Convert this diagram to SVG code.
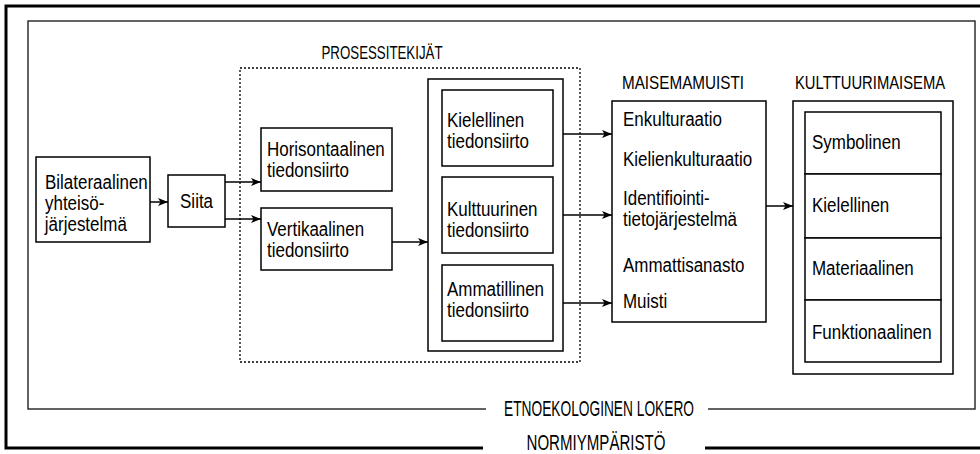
<svg xmlns="http://www.w3.org/2000/svg" width="980" height="454" viewBox="0 0 980 454">
  <style>
    text { font-family: "Liberation Sans", Arial, sans-serif; font-size: 19.5px; fill: #000;
           transform-box: fill-box; transform-origin: 0 50%; transform: scaleX(0.87); }
    text.mid { transform-origin: 50% 50%; }
    .cap { font-size: 19px; transform: none; }
    .cap.narrow { transform-origin: 50% 50%; transform: scaleX(0.78); }
    .big { font-size: 22px; transform: none; }
    .box { fill: #fff; stroke: #000; stroke-width: 1.5; }
    .frame { fill: none; stroke: #000; stroke-width: 3; }
    .inner { fill: none; stroke: #222; stroke-width: 1.4; }
    .dotted { fill: none; stroke: #000; stroke-width: 1.3; stroke-dasharray: 2 2; }
    .conn { fill: none; stroke: #000; stroke-width: 1.5; }
    .mask { fill: #fff; stroke: none; }
  </style>
  <defs>
    <marker id="arrow" viewBox="0 0 10 8" refX="10" refY="4" markerWidth="10" markerHeight="8" markerUnits="userSpaceOnUse" orient="auto">
      <path d="M0,0 L10,4 L0,8 L2.5,4 Z" fill="#000"/>
    </marker>
  </defs>

  <rect width="980" height="454" fill="#fff"/>

  <!-- outer environment frame, open at the bottom for its label -->
  <g id="normiymparisto">
    <rect class="frame" x="6" y="6" width="980" height="442"/>
    <rect class="mask" x="483" y="440" width="222" height="14"/>
    <text class="big" x="596" y="450" text-anchor="middle" textLength="139" lengthAdjust="spacingAndGlyphs">NORMIYMPÄRISTÖ</text>
  </g>

  <!-- ethno-ecological niche frame -->
  <g id="etnoekologinen-lokero">
    <rect class="inner" x="28" y="21" width="947" height="388"/>
    <rect class="mask" x="486" y="402" width="222" height="14"/>
    <text class="big" x="599" y="416" text-anchor="middle" textLength="190" lengthAdjust="spacingAndGlyphs">ETNOEKOLOGINEN LOKERO</text>
  </g>

  <!-- process factors -->
  <g id="prosessitekijat">
    <rect class="dotted" x="240" y="68" width="340" height="294"/>
    <text class="cap" x="382" y="59" text-anchor="middle" textLength="121" lengthAdjust="spacingAndGlyphs">PROSESSITEKIJÄT</text>
  </g>

  <g id="bilateraalinen">
    <rect class="box" x="36" y="157" width="114" height="85"/>
    <text x="45" y="189">Bilateraalinen</text>
    <text x="45" y="210">yhteisö-</text>
    <text x="45" y="231">järjestelmä</text>
  </g>

  <g id="siita">
    <rect class="box" x="168" y="175" width="57" height="52"/>
    <text class="mid" x="196.5" y="208" text-anchor="middle">Siita</text>
  </g>

  <g id="horisontaalinen">
    <rect class="box" x="261" y="128" width="131" height="63"/>
    <text x="267" y="156">Horisontaalinen</text>
    <text x="267" y="177">tiedonsiirto</text>
  </g>

  <g id="vertikaalinen">
    <rect class="box" x="261" y="208" width="131" height="62"/>
    <text x="267" y="236">Vertikaalinen</text>
    <text x="267" y="257">tiedonsiirto</text>
  </g>

  <g id="tiedonsiirto">
    <rect class="box" x="428" y="79" width="135" height="272"/>
    <g id="kielellinen-tiedonsiirto">
      <rect class="box" x="442" y="90" width="111" height="76"/>
      <text x="447" y="127">Kielellinen</text>
      <text x="447" y="148">tiedonsiirto</text>
    </g>
    <g id="kulttuurinen-tiedonsiirto">
      <rect class="box" x="442" y="177" width="111" height="76"/>
      <text x="447" y="216">Kulttuurinen</text>
      <text x="447" y="237">tiedonsiirto</text>
    </g>
    <g id="ammatillinen-tiedonsiirto">
      <rect class="box" x="442" y="265" width="111" height="76"/>
      <text x="447" y="296">Ammatillinen</text>
      <text x="447" y="317">tiedonsiirto</text>
    </g>
  </g>

  <g id="maisemamuisti">
    <text class="cap" x="683" y="89" text-anchor="middle" textLength="122" lengthAdjust="spacingAndGlyphs">MAISEMAMUISTI</text>
    <rect class="box" x="612" y="101" width="154" height="221"/>
    <text x="623" y="126">Enkulturaatio</text>
    <text x="623" y="166">Kielienkulturaatio</text>
    <text x="623" y="205">Identifiointi-</text>
    <text x="623" y="226">tietojärjestelmä</text>
    <text x="623" y="272">Ammattisanasto</text>
    <text x="623" y="308">Muisti</text>
  </g>

  <g id="kulttuurimaisema">
    <text class="cap narrow" x="870" y="89" text-anchor="middle">KULTTUURIMAISEMA</text>
    <rect class="box" x="793" y="101" width="160" height="273"/>
    <rect class="box" x="805" y="112" width="136" height="62"/>
    <rect class="box" x="805" y="174" width="136" height="64"/>
    <rect class="box" x="805" y="238" width="136" height="62"/>
    <rect class="box" x="805" y="300" width="136" height="62"/>
    <text x="812" y="149">Symbolinen</text>
    <text x="812" y="212">Kielellinen</text>
    <text x="812" y="275">Materiaalinen</text>
    <text x="812" y="339">Funktionaalinen</text>
  </g>

  <!-- connectors -->
  <g id="connectors">
    <line class="conn" x1="150" y1="202" x2="168" y2="202" marker-end="url(#arrow)"/>
    <line class="conn" x1="225" y1="182" x2="261" y2="182" marker-end="url(#arrow)"/>
    <line class="conn" x1="225" y1="219" x2="261" y2="219" marker-end="url(#arrow)"/>
    <line class="conn" x1="392" y1="242" x2="428" y2="242" marker-end="url(#arrow)"/>
    <line class="conn" x1="563" y1="134" x2="612" y2="134" marker-end="url(#arrow)"/>
    <line class="conn" x1="563" y1="215" x2="612" y2="215" marker-end="url(#arrow)"/>
    <line class="conn" x1="563" y1="303" x2="612" y2="303" marker-end="url(#arrow)"/>
    <line class="conn" x1="766" y1="206" x2="793" y2="206" marker-end="url(#arrow)"/>
  </g>
</svg>
